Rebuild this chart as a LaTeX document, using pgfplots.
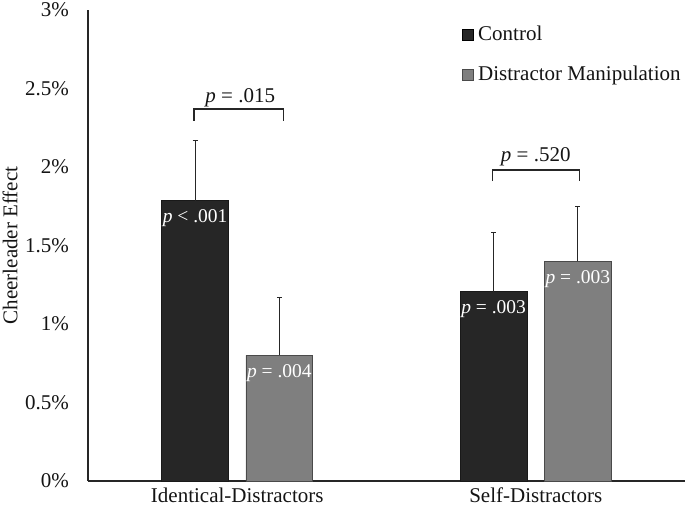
\documentclass[border=0pt]{standalone}
\usepackage{pgfplots}
\pgfplotsset{compat=1.18}
\usepackage{fontspec}
\setmainfont{Liberation Serif}
\definecolor{ctrl}{HTML}{262626}
\definecolor{dist}{HTML}{7F7F7F}
\definecolor{distedge}{HTML}{4A4A4A}
\definecolor{txt}{HTML}{141414}
\begin{document}
\fontsize{21}{25}\selectfont
\begin{tikzpicture}
\useasboundingbox (-88pt,-34pt) rectangle (597pt,481pt);
\begin{axis}[
  scale only axis, width=597pt, height=471pt,
  anchor=south west, at={(0pt,0pt)},
  xmin=-0.5, xmax=1.5, ymin=0, ymax=3,
  axis x line*=bottom, axis y line*=left,
  axis line style={-, draw=ctrl, line width=1.3pt},
  xtick={0,1}, xticklabels={Identical-Distractors, Self-Distractors},
  ytick={0,0.5,1,1.5,2,2.5,3},
  yticklabels={0\%,0.5\%,1\%,1.5\%,2\%,2.5\%,3\%},
  major tick length=0pt,
  tick label style={font=\fontsize{21}{25}\selectfont, text=txt},
  yticklabel style={xshift=-12pt},
  ylabel={Cheerleader Effect},
  every axis y label/.style={at={(axis description cs:-0.1307,0.5)}, rotate=90, anchor=center, font=\fontsize{21}{25}\selectfont, text=txt},
  legend style={at={(axis description cs:0.626,0.971)}, anchor=north west, draw=none, fill=none,
    font=\fontsize{21}{25}\selectfont, text=txt, row sep=18pt, inner sep=0pt, cells={anchor=west}},
  legend cell align=left,
]
\addplot[ybar, bar width=0.224, bar shift=0, fill=ctrl, draw=black!90, line width=0.7pt,
  legend image code/.code={\path[draw=none, fill=none] (0pt,0pt) -- (14pt,0pt); \draw[fill=ctrl, draw=black, line width=0.6pt] (0pt,-5.5pt) rectangle (11pt,5.5pt);},
  error bars/.cd, y dir=plus, y explicit, error mark=-,
  error bar style={line width=1.3pt, draw=ctrl},
  error mark options={rotate=90, line width=1.3pt, mark size=2.5pt, draw=ctrl}]
  coordinates {(-0.141,1.785) +- (0,0.385) (0.859,1.205) +- (0,0.379)};
\addlegendentry{Control}
\addplot[ybar, bar width=0.224, bar shift=0, fill=dist, draw=distedge, line width=0.7pt,
  legend image code/.code={\path[draw=none, fill=none] (0pt,0pt) -- (14pt,0pt); \draw[fill=dist, draw=distedge, line width=0.6pt] (0pt,-5.5pt) rectangle (11pt,5.5pt);},
  error bars/.cd, y dir=plus, y explicit, error mark=-,
  error bar style={line width=1.3pt, draw=ctrl},
  error mark options={rotate=90, line width=1.3pt, mark size=2.5pt, draw=ctrl}]
  coordinates {(0.141,0.80) +- (0,0.37) (1.141,1.40) +- (0,0.35)};
\addlegendentry{Distractor Manipulation}
% significance brackets
\draw[line width=1.3pt, ctrl] (axis cs:-0.145,2.295) -- (axis cs:-0.145,2.37) -- (axis cs:0.155,2.37) -- (axis cs:0.155,2.295);
\draw[line width=1.3pt, ctrl] (axis cs:0.855,1.91) -- (axis cs:0.855,1.98) -- (axis cs:1.146,1.98) -- (axis cs:1.146,1.91);
\node[font=\fontsize{21}{25}\selectfont, text=txt] at (axis cs:0.01,2.44) {\textit{p} = .015};
\node[font=\fontsize{21}{25}\selectfont, text=txt] at (axis cs:1.0,2.066) {\textit{p} = .520};
% p-values inside bars
\node[font=\fontsize{19.5}{22}\selectfont, text=white, anchor=north, inner sep=3pt, yshift=-6pt] at (axis cs:-0.141,1.785) {\textit{p} < .001};
\node[font=\fontsize{19.5}{22}\selectfont, text=white, anchor=north, inner sep=3pt, yshift=-6pt] at (axis cs:0.141,0.80) {\textit{p} = .004};
\node[font=\fontsize{19.5}{22}\selectfont, text=white, anchor=north, inner sep=3pt, yshift=-6pt] at (axis cs:0.859,1.205) {\textit{p} = .003};
\node[font=\fontsize{19.5}{22}\selectfont, text=white, anchor=north, inner sep=3pt, yshift=-6pt] at (axis cs:1.141,1.40) {\textit{p} = .003};
\end{axis}
\end{tikzpicture}
\end{document}
